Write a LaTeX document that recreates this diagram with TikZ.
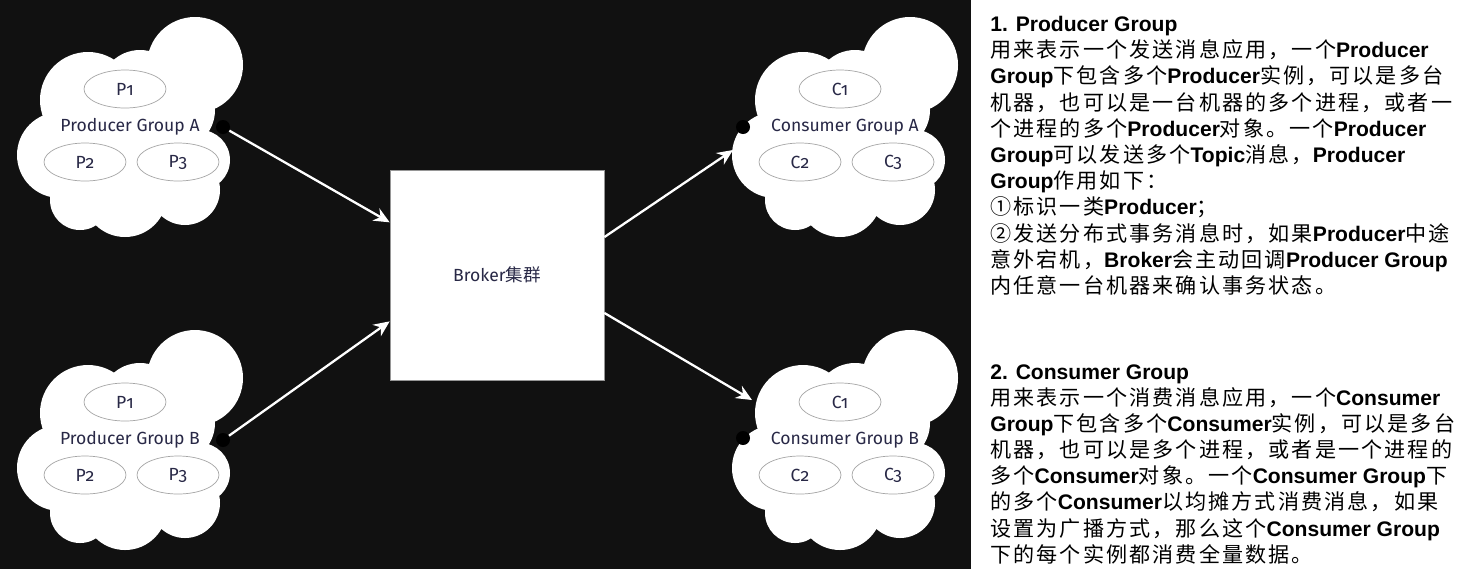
\documentclass[tikz,border=0pt]{standalone}
\usepackage{fontspec}
\usepackage{tikz}
\usetikzlibrary{calc, shapes.geometric, arrows.meta}
\newfontfamily\cnfont{Noto Sans CJK SC}[LetterSpace=10]
\newfontfamily\cjk{Noto Sans CJK SC}
\newfontfamily\enfont{Liberation Sans}
\newfontfamily\cloudfont{Fira Sans}[Numbers=OldStyle]
\newcommand{\eng}[1]{{\enfont\bfseries\fontsize{12pt}{14.9pt}\selectfont #1}}
\definecolor{bgblack}{RGB}{17,17,17}
\definecolor{inkblue}{RGB}{40,40,70}
\definecolor{ovalgray}{RGB}{165,165,165}
\definecolor{boxgray}{RGB}{150,150,150}

\begin{document}
\begin{tikzpicture}[x=0.02cm, y=-0.02cm,
    >={Stealth[length=9pt, width=8pt, inset=3pt]},
    oval/.style={ellipse, draw=ovalgray, fill=white, minimum width=1.64cm, minimum height=0.76cm, inner sep=0pt, text=inkblue, font=\cloudfont\fontsize{10pt}{12pt}\selectfont},
    grouplabel/.style={inner sep=1pt, text=inkblue, font=\cloudfont\fontsize{10pt}{12pt}\selectfont},
    plug/.style={circle, fill=black, inner sep=0pt, minimum size=0.28cm},
    flow/.style={white, line width=1.3pt},
    notes/.style={anchor=north west, align=left, inner sep=0pt, font=\cnfont\fontsize{12pt}{14.9pt}\selectfont}]
      \useasboundingbox (0,0) rectangle (1469,569);
      \fill[white] (0,0) rectangle (1469,569);
      \fill[bgblack] (0,0) rectangle (971,569);
      % four groups, same cloud shifted
      \foreach \gx/\gy/\g/\ltr/\glabel in {0/0/pa/P/Producer Group A, 0/313/pb/P/Producer Group B, 715/0/ca/C/Consumer Group A, 715/313/cb/C/Consumer Group B} {
        \begin{scope}[shift={(\gx,\gy)}]
          \fill[white] (195,65) circle[radius=48] (88,100) circle[radius=48] (140,90) circle[radius=40]
            (60,155) circle[radius=43] (80,200) circle[radius=30] (125,195) circle[radius=42]
            (185,190) circle[radius=35] (200,160) circle[radius=30] (130,140) circle[radius=60]
            (175,110) circle[radius=40];
          \node[oval] (\g1) at (125,89) {\ltr1};
          \node[oval] (\g2) at (85,162) {\ltr2};
          \node[oval] (\g3) at (178,162) {\ltr3};
          \node[grouplabel] (\g) at (130,127) {\glabel};
        \end{scope}
      }
      \node[plug] (padot) at (223,127) {};
      \node[plug] (pbdot) at (223,440) {};
      \node[plug] (cadot) at (743,127) {};
      \node[plug] (cbdot) at (743,438) {};
      \node[draw=boxgray, fill=white, minimum width=4.28cm, minimum height=4.2cm, grouplabel] (broker) at (497,275) {Broker{\cjk 集群}};
      \coordinate (cain) at (733,150);
      \coordinate (cbin) at (752,400);
      \draw[flow, ->] (padot) -- ($(broker.north west)!0.25!(broker.south west)$);
      \draw[flow, ->] (pbdot) -- ($(broker.north west)!0.72!(broker.south west)$);
      \draw[flow, ->] ($(broker.north east)!0.32!(broker.south east)$) -- (cain);
      \draw[flow, ->] ($(broker.north east)!0.68!(broker.south east)$) -- (cbin);
      \node[notes] (producernote) at (990,16) {\eng{1. Producer Group}\\
用来表示一个发送消息应用，一个\eng{Producer}\\
\eng{Group}下包含多个\eng{Producer}实例，可以是多台\\
机器，也可以是一台机器的多个进程，或者一\\
个进程的多个\eng{Producer}对象。一个\eng{Producer}\\
\eng{Group}可以发送多个\eng{Topic}消息，\eng{Producer}\\
\eng{Group}作用如下：\\
①标识一类\eng{Producer}；\\
②发送分布式事务消息时，如果\eng{Producer}中途\\
意外宕机，\eng{Broker}会主动回调\eng{Producer Group}\\
内任意一台机器来确认事务状态。};
      \node[notes] (consumernote) at (990,364) {\eng{2. Consumer Group}\\
用来表示一个消费消息应用，一个\eng{Consumer}\\
\eng{Group}下包含多个\eng{Consumer}实例，可以是多台\\
机器，也可以是多个进程，或者是一个进程的\\
多个\eng{Consumer}对象。一个\eng{Consumer Group}下\\
的多个\eng{Consumer}以均摊方式消费消息，如果\\
设置为广播方式，那么这个\eng{Consumer Group}\\
下的每个实例都消费全量数据。};
    \end{tikzpicture}
\end{document}
